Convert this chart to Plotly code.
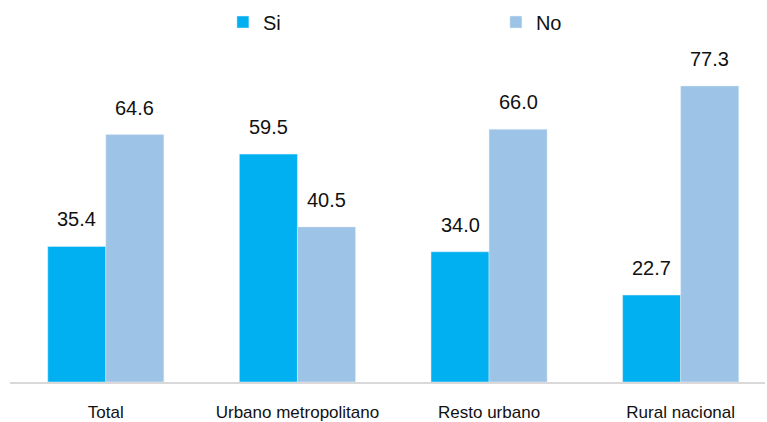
import plotly.graph_objects as go

categories = ["Total", "Urbano metropolitano", "Resto urbano", "Rural nacional"]
si_values = [35.4, 59.5, 34.0, 22.7]
no_values = [64.6, 40.5, 66.0, 77.3]
series_names = ["Si", "No"]

FONT = "Liberation Sans Narrow, Arial Narrow, Liberation Sans, Arial, sans-serif"
c_si = "#00B0F0"
c_no = "#9DC3E6"

fig = go.Figure()
fig.add_trace(go.Bar(x=categories, y=si_values, name=series_names[0], marker_color=c_si,
                     offsetgroup="si"))
fig.add_trace(go.Bar(x=categories, y=no_values, name=series_names[1], marker_color=c_no,
                     offsetgroup="no"))

bargap = 0.394
half = (1 - bargap) / 4  # half width of one bar in category units
annots = []
for i, cat in enumerate(categories):
    for vals, sign in ((si_values, -1), (no_values, 1)):
        annots.append(dict(x=i + sign * half, y=vals[i], xref="x", yref="y",
                           text=f"{vals[i]:.1f}", showarrow=False, yanchor="bottom",
                           yshift=14, font=dict(family=FONT, size=20, color="#111111")))

W, H = 767, 422
top, bottom = 40, 382
fig.update_layout(
    width=W, height=H,
    margin=dict(l=10, r=2, t=top, b=H - bottom, autoexpand=False),
    paper_bgcolor="white", plot_bgcolor="white",
    barmode="group", bargap=bargap, bargroupgap=0,
    font=dict(family=FONT, size=16, color="#111111"),
    showlegend=True,
    legend=dict(orientation="h", x=0.282, xanchor="left", yref="container",
                y=1 - 22 / H, yanchor="middle", entrywidth=228,
                font=dict(family=FONT, size=20), itemclick=False, itemdoubleclick=False),
    annotations=annots,
)
fig.update_xaxes(type="category", range=[-0.5, 3.44], showline=True, linecolor="#D9D9D9",
                 linewidth=2, ticks="", ticklabelstandoff=14,
                 tickfont=dict(family=FONT, size=17, color="#111111"))
fig.update_yaxes(range=[0, (bottom - top) / 3.83], visible=False, showgrid=False)

fig.write_html("out.html", config={"displayModeBar": False},
               post_script="document.body.style.margin='0';")
